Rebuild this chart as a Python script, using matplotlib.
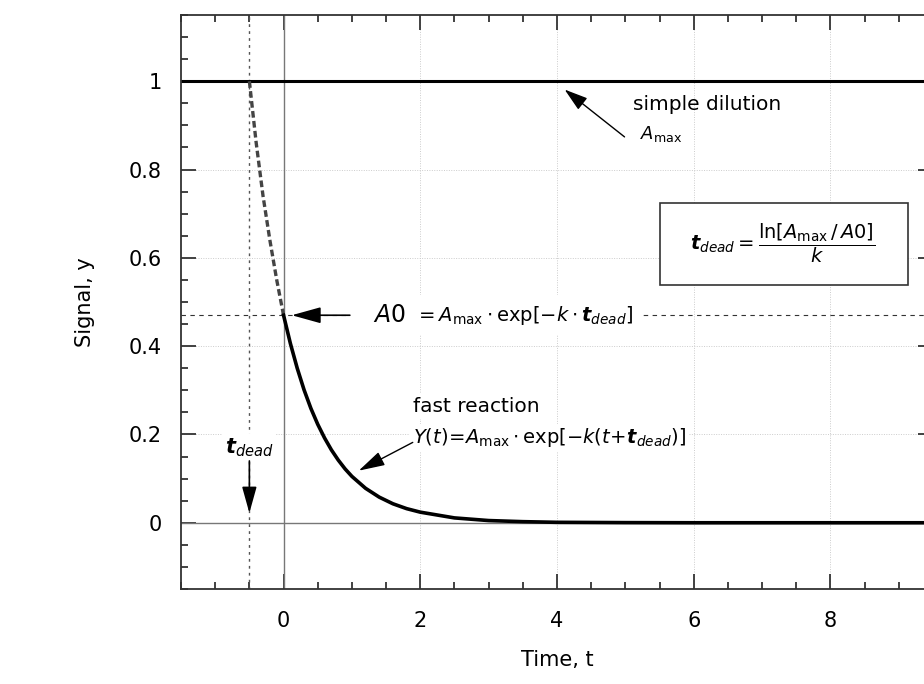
import matplotlib
matplotlib.use("Agg")
import matplotlib.pyplot as plt
from matplotlib.ticker import MultipleLocator
from matplotlib.patches import Rectangle

# values
A_max = 1.0
A0 = 0.47
t_dead = 0.5

# extrapolated (dashed) part, before mixing is complete
t_pre = [-0.5, -0.4, -0.3, -0.2, -0.1, 0.0]
y_pre = [1.0, 0.86, 0.74, 0.64, 0.55, 0.47]

# observed fast reaction
t_fast = [0.0, 0.1, 0.2, 0.3, 0.4, 0.5, 0.6, 0.7, 0.8, 0.9, 1.0, 1.2, 1.4, 1.6,
          1.8, 2.0, 2.5, 3.0, 3.5, 4.0, 5.0, 6.0, 8.0, 9.5]
y_fast = [0.47, 0.406, 0.35, 0.301, 0.259, 0.223, 0.192, 0.165, 0.142, 0.122,
          0.105, 0.078, 0.058, 0.043, 0.032, 0.024, 0.011, 0.005, 0.0025, 0.001,
          0.0003, 0.0, 0.0, 0.0]

x_ticks = [0, 2, 4, 6, 8]
y_ticks = [0, 0.2, 0.4, 0.6, 0.8, 1]
y_ticklabels = ['0', '0.2', '0.4', '0.6', '0.8', '1']

plt.rcParams['font.family'] = 'DejaVu Sans'
plt.rcParams['mathtext.fontset'] = 'dejavusans'

fig = plt.figure(figsize=(9.24, 6.84), dpi=100)
fig.patch.set_facecolor('white')
ax = fig.add_axes([0.1959, 0.1389, 0.8138, 0.8392])
ax.set_axisbelow(True)

ax.set_xlim(-1.5, 9.5)
ax.set_ylim(-0.15, 1.15)

# grid
ax.set_xticks(x_ticks)
ax.set_yticks(y_ticks)
ax.set_yticklabels(y_ticklabels)
ax.xaxis.set_minor_locator(MultipleLocator(0.5))
ax.yaxis.set_minor_locator(MultipleLocator(0.05))
ax.grid(True, which='major', color='#cccccc', linestyle=(0, (1, 1.5)), linewidth=0.7)

ax.tick_params(which='both', direction='in', top=True, right=True, color='#333333', width=1.3)
ax.tick_params(which='major', length=11)
ax.tick_params(which='minor', length=5)
ax.tick_params(axis='x', labelsize=15, pad=16)
ax.tick_params(axis='y', labelsize=15, pad=14)
for s in ax.spines.values():
    s.set_color('#333333')
    s.set_linewidth(1.3)
    s.set_zorder(8)

# reference lines
ax.axhline(0, color='#777777', lw=1.0, zorder=1)
ax.axvline(0, color='#777777', lw=1.0, zorder=1)
ax.axvline(-t_dead, color='#555555', lw=1.0, linestyle=(0, (2, 3)), zorder=1)
ax.axhline(A0, color='#333333', lw=0.8, linestyle=(0, (4, 4)), zorder=1)
ax.axhline(A_max, color='black', lw=2.2, zorder=3)

# curves
ax.plot(t_pre, y_pre, color='#444444', lw=2.4, linestyle=(0, (2, 1)), zorder=4)
ax.plot(t_fast, y_fast, color='black', lw=2.6, solid_joinstyle='round', zorder=4)

ax.set_xlabel('Time, t', fontsize=15)
ax.xaxis.set_label_coords(0.5, -0.124)
ax.xaxis.label.set_va('center')
ax.set_ylabel('Signal, y', fontsize=15)
ax.yaxis.set_label_coords(-0.128, 0.5)
ax.yaxis.label.set_va('center')

white = dict(facecolor='white', edgecolor='none', pad=2)

# simple dilution
ax.annotate('', xy=(4.08, 0.985), xytext=(5.02, 0.87),
            arrowprops=dict(arrowstyle='-|>,head_length=0.8,head_width=0.25',
                            color='black', lw=1.0, mutation_scale=18), zorder=6)
ax.text(5.11, 0.935, 'simple dilution', fontsize=14.5, va='baseline', ha='left', zorder=6)
ax.text(5.21, 0.868, r'$A_{\rm max}$', fontsize=13, va='baseline', ha='left', zorder=6)

# formula box
ax.add_patch(Rectangle((5.5, 0.538), 3.63, 0.187, facecolor='white',
                       edgecolor='#333333', lw=1.2, zorder=5))
ax.text(7.3, 0.632, r'$\mathbfit{t}_{dead}=\dfrac{\ln[A_{\rm max}\,/\,A0]}{k}$',
        fontsize=14, ha='center', va='center', zorder=6)

# A0
ax.text(1.0, A0, r'   $A0$', fontsize=17, va='center', ha='left', zorder=6,
        bbox=dict(facecolor='white', edgecolor='none', pad=4))
ax.text(1.93, A0, r'$=A_{\rm max}\cdot{\rm exp}[-k\cdot\mathbfit{t}_{dead}]$', fontsize=14,
        va='center', ha='left', zorder=6, bbox=dict(facecolor='white', edgecolor='none', pad=6))
ax.annotate('', xy=(0.12, A0), xytext=(0.97, A0),
            arrowprops=dict(arrowstyle='-|>,head_length=0.9,head_width=0.25',
                            color='black', lw=1.2, mutation_scale=20,
                            shrinkA=0, shrinkB=0), zorder=7)

# fast reaction
ax.text(1.89, 0.251, 'fast reaction', fontsize=14.5, va='baseline', ha='left', zorder=6, bbox=white)
ax.text(1.89, 0.18, r'$Y(t)\!=\!A_{\rm max}\cdot{\rm exp}[-k(t\!+\!\mathbfit{t}_{dead})]$',
        fontsize=14, va='baseline', ha='left', zorder=6, bbox=white)
ax.annotate('', xy=(1.1, 0.118), xytext=(1.89, 0.182),
            arrowprops=dict(arrowstyle='-|>,head_length=0.9,head_width=0.25',
                            color='black', lw=1.0, mutation_scale=18,
                            shrinkA=0, shrinkB=0), zorder=6)

# t_dead marker
ax.text(-0.5, 0.17, r'$\mathbfit{t}_{dead}$', fontsize=15, ha='center', va='center', zorder=6, bbox=white)
ax.annotate('', xy=(-0.5, 0.022), xytext=(-0.5, 0.14),
            arrowprops=dict(arrowstyle='-|>,head_length=0.9,head_width=0.25',
                            color='black', lw=1.2, mutation_scale=18,
                            shrinkA=0, shrinkB=0), zorder=6)

fig.savefig('out.png', dpi=100, facecolor='white')
